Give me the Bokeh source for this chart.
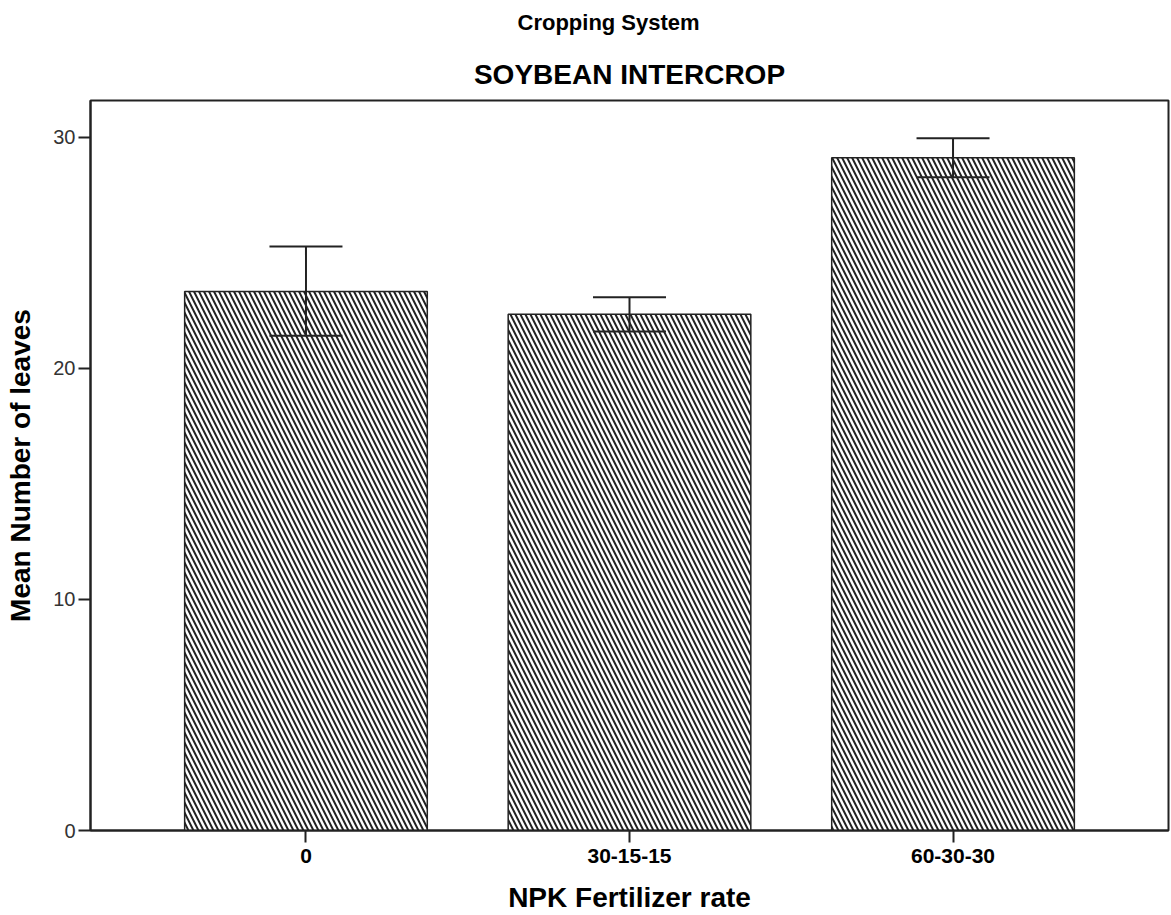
from bokeh.plotting import figure
from bokeh.models import Range1d, FixedTicker, Whisker, TeeHead, ColumnDataSource, Title
from bokeh.embed import file_html
from bokeh.resources import INLINE

categories = ["0", "30-15-15", "60-30-30"]
means = [23.32, 22.34, 29.11]
upper = [25.27, 23.08, 29.96]
lower = [21.41, 21.59, 28.27]
y_ticks = [0, 10, 20, 30]
title_text = "Cropping System"
subtitle_text = "SOYBEAN INTERCROP"

xs = list(range(len(categories)))
src = ColumnDataSource(dict(x=xs, top=means, upper=upper, lower=lower))

FONT = "Liberation Sans"

p = figure(title=None, width=1171, height=915, output_backend="svg", toolbar_location=None,
           x_range=Range1d(-0.666, len(categories) - 1 + 0.666),
           y_range=Range1d(0, 31.59),
           min_border_left=90, min_border_right=3, min_border_top=100, min_border_bottom=85)

t1 = Title(text=subtitle_text, align="center", text_font=FONT,
           text_font_size="28px", text_font_style="bold", text_color="black", standoff=22)
p.add_layout(t1, "above")
spacer = Title(text=" ", text_font_size="1px", standoff=2)
p.add_layout(spacer, "above")
t2 = Title(text=title_text, align="left", offset=427, vertical_align="top", text_font=FONT,
           text_font_size="22px", text_font_style="bold", text_color="black", standoff=8)
p.add_layout(t2, "above")

p.vbar(x="x", top="top", width=0.75, bottom=0, source=src,
       fill_color="white", line_color="#222222", line_width=1.5,
       hatch_pattern="\\", hatch_color="#222222", hatch_scale=10, hatch_weight=2.0)

w = Whisker(base="x", upper="upper", lower="lower", source=src, level="overlay",
            line_color="#222222", line_width=2,
            upper_head=TeeHead(size=73, line_color="#222222", line_width=2),
            lower_head=TeeHead(size=73, line_color="#222222", line_width=2))
p.add_layout(w)

p.xgrid.visible = False
p.ygrid.visible = False
p.outline_line_color = "#222222"
p.outline_line_width = 2
p.background_fill_color = "white"
p.border_fill_color = "white"

p.xaxis.ticker = FixedTicker(ticks=xs)
p.xaxis.major_label_overrides = {i: c for i, c in zip(xs, categories)}
p.xaxis.major_label_text_font = FONT
p.xaxis.major_label_text_font_style = "bold"
p.xaxis.major_label_text_font_size = "21px"
p.xaxis.major_label_text_color = "black"
p.xaxis.major_label_standoff = 6
p.xaxis.major_tick_out = 12
p.xaxis.major_tick_in = 0
p.xaxis.minor_tick_line_color = None
p.xaxis.axis_line_width = 2
p.xaxis.axis_line_color = "#222222"
p.xaxis.major_tick_line_width = 2
p.xaxis.major_tick_line_color = "#222222"
p.xaxis.axis_label = "NPK Fertilizer rate"
p.xaxis.axis_label_text_font = FONT
p.xaxis.axis_label_text_font_size = "28px"
p.xaxis.axis_label_text_font_style = "bold"
p.xaxis.axis_label_text_color = "black"
p.xaxis.axis_label_standoff = 16

p.yaxis.ticker = FixedTicker(ticks=y_ticks)
p.yaxis.major_label_text_font = FONT
p.yaxis.major_label_text_font_size = "20px"
p.yaxis.major_label_text_color = "#333333"
p.yaxis.major_label_standoff = 3
p.yaxis.major_tick_out = 12
p.yaxis.major_tick_in = 0
p.yaxis.minor_tick_line_color = None
p.yaxis.axis_line_width = 2
p.yaxis.axis_line_color = "#222222"
p.yaxis.major_tick_line_width = 2
p.yaxis.major_tick_line_color = "#222222"
p.yaxis.axis_label = "Mean Number of leaves"
p.yaxis.axis_label_text_font = FONT
p.yaxis.axis_label_text_font_size = "28px"
p.yaxis.axis_label_text_font_style = "bold"
p.yaxis.axis_label_text_color = "black"
p.yaxis.axis_label_standoff = 14

open("out.html", "w").write(file_html(p, INLINE))
